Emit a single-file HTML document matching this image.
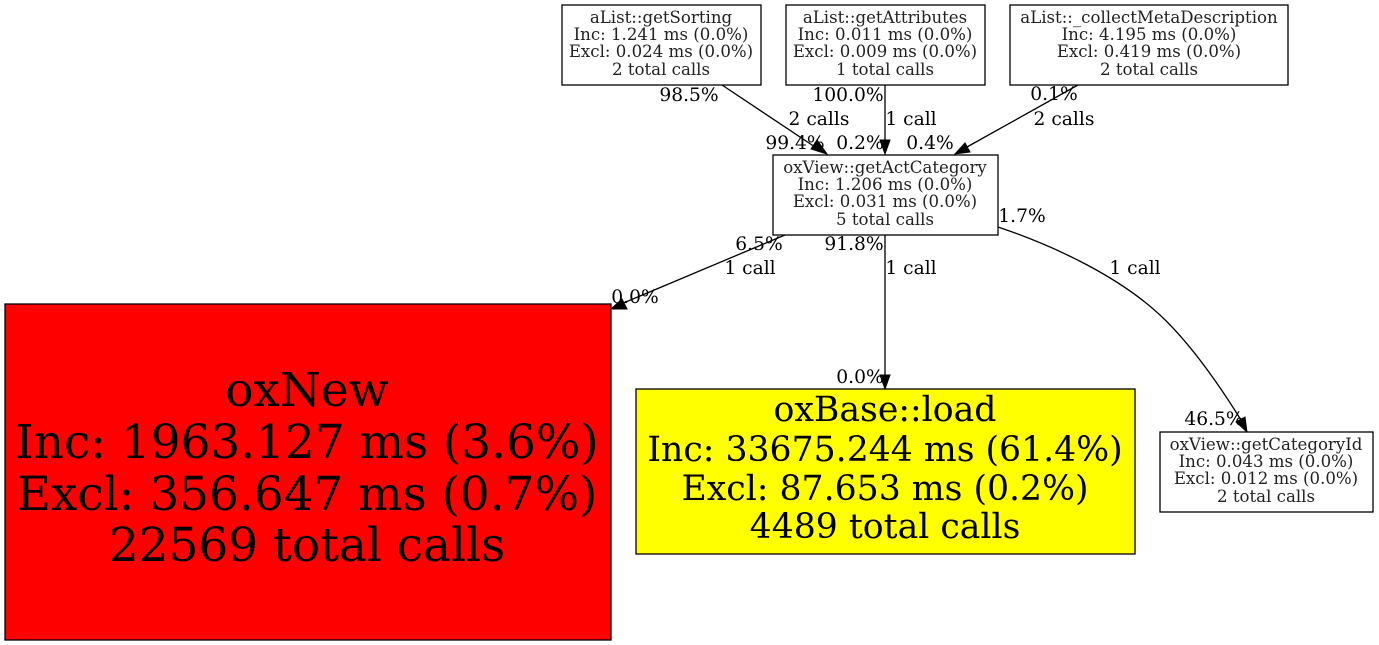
<!DOCTYPE html>
<html><head><meta charset="utf-8"><style>
html,body{margin:0;padding:0;background:#fff;width:1379px;height:645px;overflow:hidden}
svg{display:block}
text{font-family:"DejaVu Serif",serif;fill:#000;text-anchor:middle}
.n{font-size:16.6px;fill:#222}
.e{font-size:18.67px}
.b{font-size:34.67px}
.h{font-size:46.9px}
rect{stroke:#000;stroke-width:1.3}
path.l{fill:none;stroke:#000;stroke-width:1.3}
polygon{fill:#000;stroke:#000;stroke-width:1}
</style></head><body>
<svg width="1379" height="645" viewBox="0 0 1379 645" xmlns="http://www.w3.org/2000/svg">
<path class="l" d="M722 85L815 147"/><polygon points="827,154 811,149 817,140"/>
<path class="l" d="M885 85V141"/><polygon points="885,154 880,140 890,140"/>
<path class="l" d="M1078 85L967 147"/><polygon points="955,154 965,143 970,152"/>
<path class="l" d="M785 235L621 304"/><polygon points="611,309 622,299 627,309"/>
<path class="l" d="M885 235V376"/><polygon points="885,389 880,375 890,375"/>
<path class="l" d="M998 227C1060 248 1120 278 1160 315C1190 343 1218 383 1241 420"/><polygon points="1247,432 1236,422 1245,417"/>
<rect x="562" y="5" width="199" height="80" fill="#fff"/>
<text class="n" x="661" y="23">aList::getSorting</text><text class="n" x="661" y="40">Inc: 1.241 ms (0.0%)</text><text class="n" x="661" y="57">Excl: 0.024 ms (0.0%)</text><text class="n" x="661" y="75">2 total calls</text>
<rect x="786" y="5" width="199" height="80" fill="#fff"/>
<text class="n" x="885" y="23">aList::getAttributes</text><text class="n" x="885" y="40">Inc: 0.011 ms (0.0%)</text><text class="n" x="885" y="57">Excl: 0.009 ms (0.0%)</text><text class="n" x="885" y="75">1 total calls</text>
<rect x="1010" y="5" width="278" height="80" fill="#fff"/>
<text class="n" x="1149" y="23">aList::_collectMetaDescription</text><text class="n" x="1149" y="40">Inc: 4.195 ms (0.0%)</text><text class="n" x="1149" y="57">Excl: 0.419 ms (0.0%)</text><text class="n" x="1149" y="75">2 total calls</text>
<rect x="773" y="155" width="225" height="80" fill="#fff"/>
<text class="n" x="885" y="173">oxView::getActCategory</text><text class="n" x="885" y="190">Inc: 1.206 ms (0.0%)</text><text class="n" x="885" y="207">Excl: 0.031 ms (0.0%)</text><text class="n" x="885" y="225">5 total calls</text>
<rect x="5" y="304" width="606" height="336" fill="#f00"/>
<text class="h" x="307" y="406">oxNew</text><text class="h" x="307" y="458">Inc: 1963.127 ms (3.6%)</text><text class="h" x="307" y="510">Excl: 356.647 ms (0.7%)</text><text class="h" x="307" y="561">22569 total calls</text>
<rect x="636" y="389" width="499" height="165" fill="#ff0"/>
<text class="b" x="885" y="421">oxBase::load</text><text class="b" x="885" y="461">Inc: 33675.244 ms (61.4%)</text><text class="b" x="885" y="500">Excl: 87.653 ms (0.2%)</text><text class="b" x="885" y="538">4489 total calls</text>
<rect x="1160" y="432" width="213" height="80" fill="#fff"/>
<text class="n" x="1266" y="450">oxView::getCategoryId</text><text class="n" x="1266" y="467">Inc: 0.043 ms (0.0%)</text><text class="n" x="1266" y="484">Excl: 0.012 ms (0.0%)</text><text class="n" x="1266" y="502">2 total calls</text>
<text class="e" x="689" y="101">98.5%</text><text class="e" x="819" y="125">2 calls</text><text class="e" x="795" y="149">99.4%</text>
<text class="e" x="848" y="101">100.0%</text><text class="e" x="911" y="125">1 call</text><text class="e" x="860" y="149">0.2%</text>
<text class="e" x="1054" y="100">0.1%</text><text class="e" x="1064" y="125">2 calls</text><text class="e" x="930" y="149">0.4%</text>
<text class="e" x="759" y="250">6.5%</text><text class="e" x="750" y="274">1 call</text><text class="e" x="635" y="303">0.0%</text>
<text class="e" x="854" y="250">91.8%</text><text class="e" x="911" y="274">1 call</text><text class="e" x="860" y="383">0.0%</text>
<text class="e" x="1022" y="222">1.7%</text><text class="e" x="1135" y="274">1 call</text><text class="e" x="1214" y="425">46.5%</text>
</svg>
</body></html>
